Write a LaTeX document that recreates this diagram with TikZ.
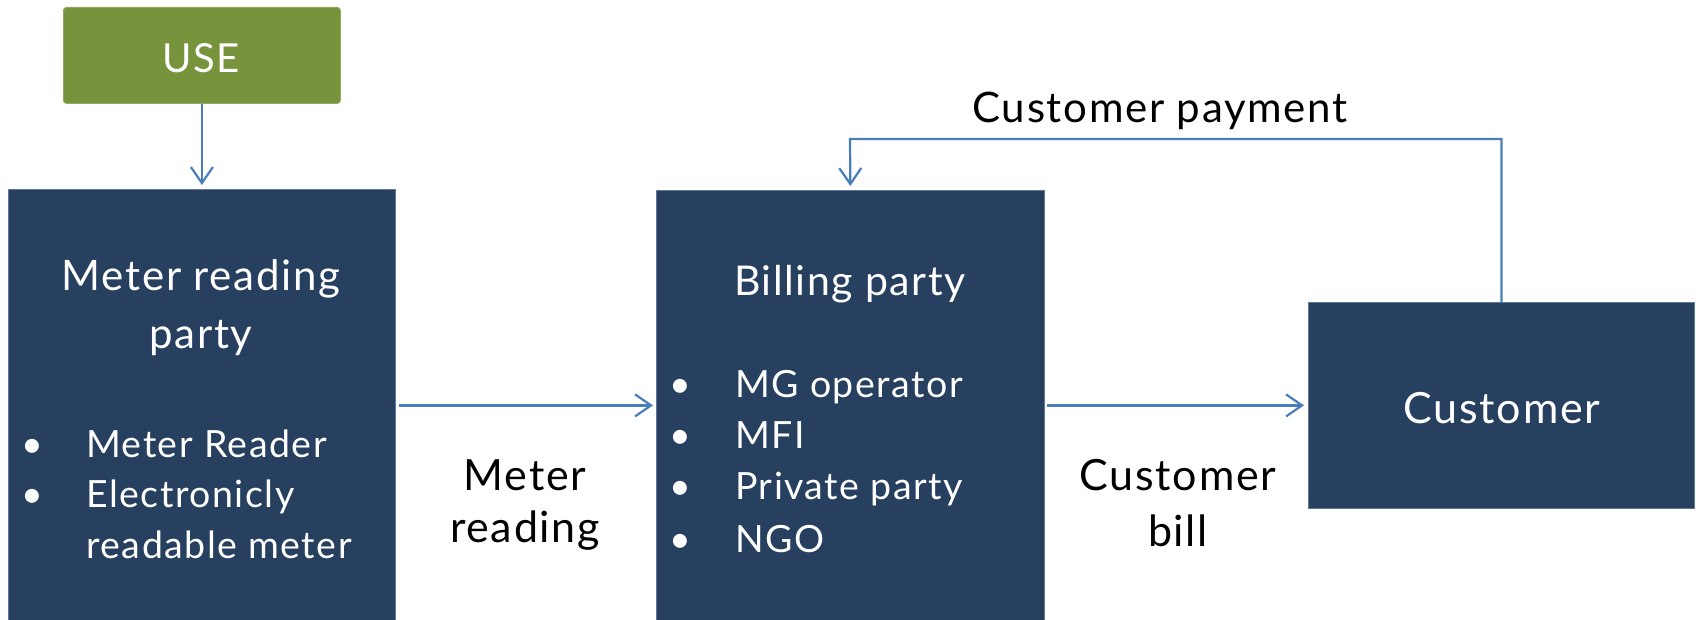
\documentclass[tikz,border=0pt]{standalone}
\usepackage{fontspec}
\setmainfont{Lato}[LetterSpace=4]
\usetikzlibrary{arrows.meta}
\definecolor{navy}{RGB}{39,64,96}
\definecolor{navyedge}{RGB}{96,120,150}
\definecolor{leaf}{RGB}{119,147,60}
\definecolor{flow}{RGB}{74,126,187}
\tikzset{
  party/.style={draw=navyedge, line width=0.8pt, fill=navy, rectangle, inner sep=0pt, anchor=north west},
  usebox/.style={draw=leaf!80!white, line width=0.8pt, fill=leaf, rectangle, rounded corners=3pt, inner sep=0pt, anchor=north west},
  flowline/.style={draw=flow, line width=2.2pt, -{Straight Barb[length=16pt,width=22pt,line width=2.2pt]}},
  boxhead/.style={text=white, anchor=base, inner sep=0pt},
  bul/.style={text=white, anchor=base, inner sep=0pt, font=\fontsize{37.5}{44}\selectfont},
  item/.style={text=white, anchor=base west, inner sep=0pt, font=\fontsize{37.5}{44}\selectfont},
  lbl/.style={text=black, anchor=base, inner sep=0pt}
}
\begin{document}
\begin{tikzpicture}[x=1pt,y=-1pt]
\useasboundingbox (0,0) rectangle (1696,620);
\clip (0,0) rectangle (1696,620);

% boxes
\node[usebox, minimum width=277pt, minimum height=96pt] (use) at (63,7) {};
\node[party, minimum width=387pt, minimum height=460pt] (meter) at (8,189) {};
\node[party, minimum width=388pt, minimum height=460pt] (billing) at (656,190) {};
\node[party, minimum width=386pt, minimum height=206pt] (customer) at (1308,302) {};

% box texts
\node[boxhead, font=\fontsize{40}{48}\selectfont] at (201,73) {USE};

\node[boxhead, font=\fontsize{42}{48}\selectfont] at (201,290) {Meter reading};
\node[boxhead, font=\fontsize{42}{48}\selectfont] at (201,348) {party};
\node[bul] at (32,457) {•};
\node[bul] at (32,507) {•};
\node[item] at (86,457) {Meter Reader};
\node[item] at (86,507) {Electronicly};
\node[item] at (86,558) {readable meter};

\node[boxhead, font=\fontsize{41}{48}\selectfont] at (850,295) {Billing party};
\foreach \yy in {397,448,499,552}
  \node[bul] at (680,\yy) {•};
\node[item] at (735,397) {MG operator};
\node[item] at (735,448) {MFI};
\node[item] at (735,499) {Private party};
\node[item] at (735,552) {NGO};

\node[boxhead, font=\fontsize{43}{48}\selectfont] at (1502,423) {Customer};

% flow labels
\node[lbl, font=\fontsize{43}{48}\selectfont] at (525,490) {Meter};
\node[lbl, font=\fontsize{43}{48}\selectfont] at (525,542) {reading};
\node[lbl, font=\fontsize{43}{48}\selectfont] at (1178,490) {Customer};
\node[lbl, font=\fontsize{43}{48}\selectfont] at (1178,546) {bill};
\node[lbl, font=\fontsize{42}{48}\selectfont] at (1160,123) {Customer payment};

% connectors
\coordinate (payline) at (850,139);
\draw[flowline, shorten >=4pt] (use.south) -- (meter.north);
\draw[flowline, shorten <=3pt, shorten >=3pt] (meter.east |- customer.west) -- (billing.west |- customer.west);
\draw[flowline, shorten <=2pt, shorten >=4pt] (billing.east |- customer.west) -- (customer.west);
\draw[flowline, shorten >=4pt] (customer.north) |- (payline) -- (billing.north);
\end{tikzpicture}
\end{document}
